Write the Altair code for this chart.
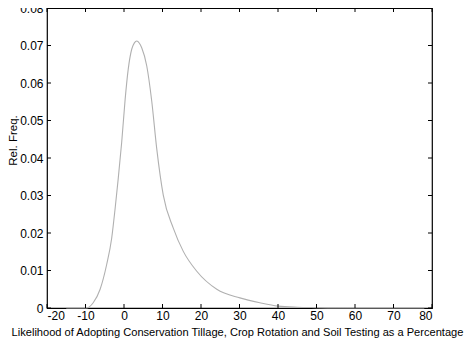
import altair as alt
import pandas as pd

# Curve
x_vals = [-15, -9.7, -8.0, -6.2, -4.5, -3.2, -2.3, -1.5, -0.6, 0.3, 1.1, 2.0, 2.7, 3.3, 4.0,
          4.6, 5.9, 7.2, 8.5, 10.2, 12.8, 15.4, 18.9, 24.1, 30.1, 35.3, 40, 45, 50, 60, 70, 78]
y_vals = [0, 0, 0.0014, 0.0050, 0.0116, 0.0186, 0.0266, 0.0345, 0.0442, 0.0557, 0.0637,
          0.0690, 0.0707, 0.0712, 0.0706, 0.0694, 0.0646, 0.0552, 0.0425, 0.0301, 0.0213,
          0.0151, 0.0098, 0.0050, 0.0027, 0.0014, 0.0005, 0.0002, 0.0001, 0, 0, 0]
x_ticks = [-20, -10, 0, 10, 20, 30, 40, 50, 60, 70, 80]
y_ticks = [0, 0.01, 0.02, 0.03, 0.04, 0.05, 0.06, 0.07, 0.08]

x_title = "Likelihood of Adopting Conservation Tillage, Crop Rotation and Soil Testing as a Percentage"
y_title = "Rel. Freq."

W, H = 385, 300
FONT = "Liberation Sans"
TL = 4

df = pd.DataFrame({"x": x_vals, "y": y_vals})
xt = pd.DataFrame({"x": x_ticks})
yt = pd.DataFrame({"y": y_ticks})

xs = alt.Scale(domain=[-20, 80], nice=False, zero=False)
ys = alt.Scale(domain=[0, 0.08], nice=False)

x_axis = alt.Axis(values=x_ticks, title=x_title, labelExpr="'' + datum.value", tickSize=0,
                  labelPadding=2, domain=False, grid=False,
                  labelFont=FONT, labelFontSize=12, labelColor="black",
                  titleFont=FONT, titleFontSize=11.1, titleFontWeight="normal",
                  titleColor="black", titleBaseline="alphabetic", titleAlign="center",
                  titleX=190, titleY=27)
y_axis = alt.Axis(values=y_ticks, title=y_title,
                  labelExpr="datum.value == 0 ? '0' : format(datum.value, '.2f')",
                  tickSize=0, labelPadding=4, domain=False, grid=False,
                  labelFont=FONT, labelFontSize=12, labelColor="black",
                  titleFont=FONT, titleFontSize=11.5, titleFontWeight="normal",
                  titleColor="black", titleBaseline="middle", titleAlign="center",
                  titleX=-34, titleY=132)

X = alt.X("x:Q", scale=xs, axis=x_axis, title=x_title)
Y = alt.Y("y:Q", scale=ys, axis=y_axis, title=y_title)

line = alt.Chart(df).mark_line(color="#b0b0b0", strokeWidth=1.1, interpolate="monotone").encode(x=X, y=Y)

bx = alt.Chart(xt).mark_rule(color="black", strokeWidth=1).encode(
    x=X, y=alt.value(H), y2=alt.value(H - TL))
tx = alt.Chart(xt).mark_rule(color="black", strokeWidth=1).encode(
    x=X, y=alt.value(0), y2=alt.value(TL))
ly = alt.Chart(yt).mark_rule(color="black", strokeWidth=1).encode(
    y=Y, x=alt.value(0), x2=alt.value(TL))
ry = alt.Chart(yt).mark_rule(color="black", strokeWidth=1).encode(
    y=Y, x=alt.value(W), x2=alt.value(W - TL))

chart = alt.layer(line, bx, tx, ly, ry).properties(
    width=W, height=H,
    autosize=alt.AutoSizeParams(type="none"),
    padding={"left": 39, "top": 0, "right": 34, "bottom": 31},
    background="white",
).configure_view(stroke="black", strokeWidth=1.2)

chart.save("out.html", embed_options={"renderer": "svg", "actions": False})
